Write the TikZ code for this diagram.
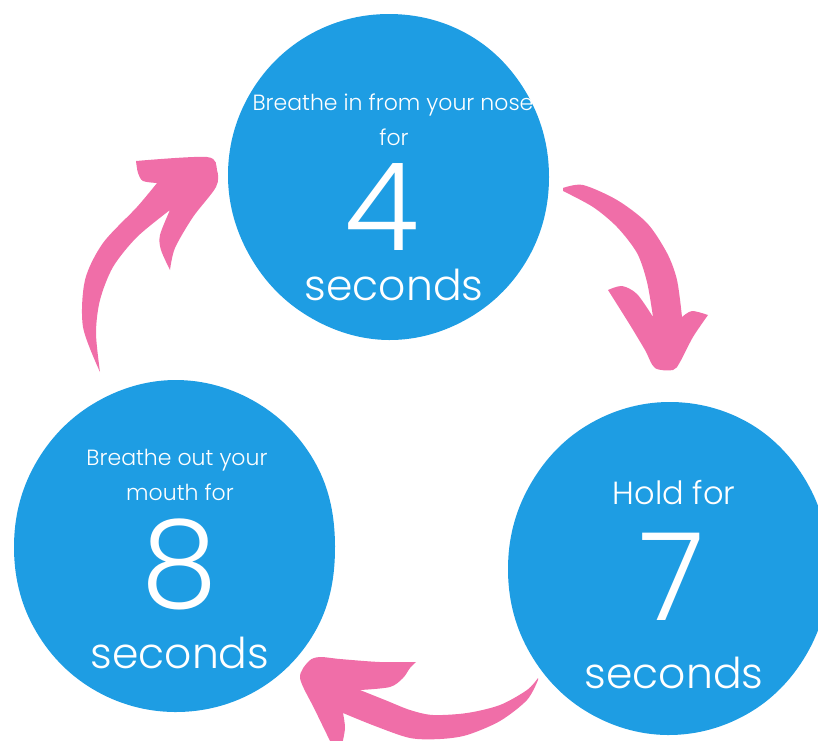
\documentclass[tikz,border=0pt]{standalone}
\usepackage{fontspec}
\setmainfont{Poppins}[UprightFont={* Light}]
\usetikzlibrary{positioning}
\definecolor{breathblue}{RGB}{30,157,227}
\definecolor{breathpink}{RGB}{240,110,168}

\begin{document}
\begin{tikzpicture}[x=1pt,y=-1pt,
 blob/.style={fill=breathblue},
 brush/.style={fill=breathpink},
 lbl/.style={text=white,anchor=base,inner sep=0pt,text depth=0pt},
 smalltxt/.style={lbl,font=\fontsize{22}{22}\selectfont},
 holdtxt/.style={lbl,font=\fontsize{32}{32}\selectfont},
 digit/.style={lbl,font=\fontsize{122}{122}\selectfont,text height=88pt},
 sectxt/.style={lbl,font=\fontsize{42.5}{42.5}\selectfont}]
\useasboundingbox (0,0) rectangle (818,740);
% the three blobs
\begin{scope}[shift={(389,177)}]
\fill[blob] plot[smooth cycle,tension=.64] coordinates
 {(0:160) (30:161) (60:162) (90:163) (120:161) (150:160)
  (180:161) (210:162) (240:163) (270:163) (300:163) (330:161)};
\end{scope}
\begin{scope}[shift={(175,546)}]
\fill[blob] plot[smooth cycle,tension=.64] coordinates
 {(0:160) (30:164) (60:166) (90:166) (120:165) (150:163)
  (180:161) (210:162) (240:164) (270:166) (300:165) (330:163)};
\end{scope}
\begin{scope}[shift={(668,568)}]
\fill[blob] plot[smooth cycle,tension=.64] coordinates
 {(0:161) (30:163) (60:166) (90:167) (120:165) (150:162)
  (180:160) (210:161) (240:164) (270:166) (300:166) (330:163)};
\end{scope}
% brush arrows
\fill[brush] plot[smooth] coordinates
 {(100,372) (83,327) (85,280) (103,243) (137,207) (157,183)}
 -- plot[smooth] coordinates {(157,183) (143,181) (138,173) (136,161)}
 -- plot[smooth] coordinates
 {(136,161) (207,157) (217,170) (216,187) (193,217) (175,248) (170,270)}
 -- plot[smooth] coordinates {(170,270) (161,250) (160,235) (170,210)}
 -- plot[smooth] coordinates
 {(170,210) (137,237) (113,267) (100,300) (96,333) (100,372)} -- cycle;
\fill[brush] plot[smooth] coordinates
 {(563,188) (583,185) (617,200) (647,223) (667,253) (677,280) (682,317)}
 -- plot[smooth] coordinates {(682,317) (692,311) (708,315)}
 -- plot[smooth] coordinates
 {(708,315) (693,337) (680,362) (673,370) (655,368) (645,350) (630,325) (608,290)}
 -- plot[smooth] coordinates {(608,290) (622,286) (637,294) (653,317)}
 -- plot[smooth] coordinates
 {(653,317) (647,282) (637,253) (617,227) (593,207) (563,191)} -- cycle;
\fill[brush] plot[smooth] coordinates
 {(538,678) (527,690) (500,705) (467,713) (433,715) (410,710) (385,700) (360,690)}
 -- plot[smooth] coordinates {(360,690) (390,687) (403,678) (410,668) (416,662)}
 -- plot[smooth] coordinates
 {(416,662) (380,662) (340,659) (320,657) (309,661) (300,678) (315,710) (332,745)}
 -- plot[smooth] coordinates {(342,745) (345,728) (343,713)}
 -- plot[smooth] coordinates
 {(343,713) (375,726) (410,738) (440,739) (467,735) (500,721) (527,700) (538,680)} -- cycle;
% texts of the top blob
\node[smalltxt] (inline1) at (393,110) {Breathe in from your nose};
\node[smalltxt] (inline2) at (394,145) {for};
\node[digit] (indigit) at (382,250) {4};
\node[sectxt] (insec) at (394,300) {seconds};
% texts of the right blob
\node[holdtxt] (holdline) at (674,504) {Hold for};
\node[digit] (holddigit) at (672,620) {7};
\node[sectxt] (holdsec) at (674,688) {seconds};
% texts of the left blob
\node[smalltxt] (outline1) at (177,465) {Breathe out your};
\node[smalltxt] (outline2) at (180,500) {mouth for};
\node[digit] (outdigit) at (180,607) {8};
\node[sectxt] (outsec) at (180,668) {seconds};
\end{tikzpicture}
\end{document}
